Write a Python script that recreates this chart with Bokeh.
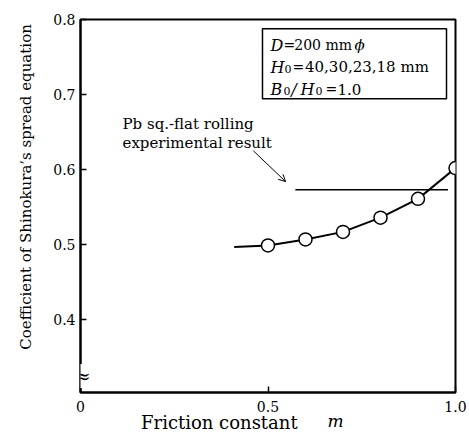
from bokeh.plotting import figure
from bokeh.models import (Range1d, FixedTicker, Label, Arrow, OpenHead,
                          BoxAnnotation, LinearAxis)
from bokeh.embed import file_html
from bokeh.resources import INLINE

# ---- data ----
curve_m = [0.41, 0.5, 0.6, 0.7, 0.8, 0.9, 1.0]
curve_c = [0.497, 0.499, 0.507, 0.517, 0.536, 0.561, 0.602]
point_m = [0.5, 0.6, 0.7, 0.8, 0.9, 1.0]
point_c = [0.499, 0.507, 0.517, 0.536, 0.561, 0.602]
exp_m = [0.573, 0.98]
exp_c = [0.573, 0.573]
x_ticks = [0, 0.5, 1.0]
x_tick_labels = ["0", "0.5", "1.0"]
y_ticks = [0.4, 0.5, 0.6, 0.7, 0.8]
y_tick_labels = ["0.4", "0.5", "0.6", "0.7", "0.8"]

FONT = "DejaVu Serif"
NB = "\u00a0"

p = figure(frame_width=375, frame_height=373,
           x_range=Range1d(0, 1.0), y_range=Range1d(0.303, 0.8),
           output_backend="svg", toolbar_location=None,
           min_border_left=80, min_border_right=14,
           min_border_top=19, min_border_bottom=56,
           background_fill_color="white", border_fill_color="white")
p.grid.visible = False
p.outline_line_color = "black"
p.outline_line_width = 2

for ax in (p.xaxis[0], p.yaxis[0]):
    ax.axis_line_width = 2
    ax.major_tick_in = 6
    ax.major_tick_out = 0
    ax.major_tick_line_width = 1.5
    ax.minor_tick_line_color = None
    ax.major_label_text_font = FONT
    ax.major_label_text_font_size = "14px"
    ax.major_label_text_color = "black"
    ax.major_label_standoff = 5

p.xaxis.ticker = FixedTicker(ticks=x_ticks)
p.xaxis.major_label_overrides = dict(zip(x_ticks, x_tick_labels))
p.xaxis.major_label_standoff = 8
p.yaxis.ticker = FixedTicker(ticks=y_ticks)
p.yaxis.major_label_overrides = dict(zip(y_ticks, y_tick_labels))

p.yaxis.axis_label = NB * 8 + "Coefficient of Shinokura\u2019s spread equation"
p.yaxis.axis_label_text_font = FONT
p.yaxis.axis_label_text_font_size = "15px"
p.yaxis.axis_label_text_font_style = "normal"
p.yaxis.axis_label_text_color = "black"
p.yaxis.axis_label_standoff = 15

# x axis label: "Friction constant" (shifted left by trailing spaces) ...
p.xaxis.axis_label = "Friction constant" + NB * 17
p.xaxis.axis_label_text_font = FONT
p.xaxis.axis_label_text_font_size = "18px"
p.xaxis.axis_label_text_font_style = "normal"
p.xaxis.axis_label_text_color = "black"
p.xaxis.axis_label_standoff = -3

# ... and the italic "m" on a bare helper axis pulled up to the same line
m_axis = LinearAxis(ticker=FixedTicker(ticks=[]), axis_line_color=None,
                    major_tick_line_color=None, minor_tick_line_color=None,
                    axis_label=NB * 25 + "m", axis_label_text_font=FONT,
                    axis_label_text_font_size="17px",
                    axis_label_text_font_style="italic",
                    axis_label_text_color="black", axis_label_standoff=-25)
p.add_layout(m_axis, "below")

# axis break mark
p.add_layout(Label(x=0, y=0.325, text="\u2248", text_font=FONT, text_font_size="20px",
                   text_color="black", text_align="center", text_baseline="middle",
                   x_offset=2, background_fill_color="white"))

# data
p.line(curve_m, curve_c, line_color="black", line_width=2)
p.line(exp_m, exp_c, line_color="black", line_width=1.5)
p.scatter(point_m, point_c, size=13, fill_color="white", line_color="black", line_width=1.5)

# annotation
p.add_layout(Label(x=0.112, y=0.661, text="Pb sq.-flat rolling", text_font=FONT,
                   text_font_size="15px", text_color="black", text_baseline="alphabetic"))
p.add_layout(Label(x=0.112, y=0.636, text="experimental result", text_font=FONT,
                   text_font_size="15px", text_color="black", text_baseline="alphabetic"))
p.add_layout(Arrow(x_start=0.461, y_start=0.625, x_end=0.547, y_end=0.584,
                   line_color="black", line_width=1,
                   end=OpenHead(size=7, line_color="black", line_width=1)))

# condition box
p.add_layout(BoxAnnotation(left=0.4853, right=0.976, top=0.7876, bottom=0.6943,
                           fill_alpha=0, line_color="black", line_width=1.5,
                           line_alpha=1))

def lab(x, y, t, italic=False, size="15px"):
    p.add_layout(Label(x=x, y=y, text=t, text_font=FONT, text_font_size=size,
                       text_font_style="italic" if italic else "normal",
                       text_color="black", text_baseline="alphabetic"))

SUB = 0.0027
Y1, Y2, Y3 = 0.766, 0.7367, 0.7073
lab(0.5067, Y1, "D", True, "16px")
lab(0.5413, Y1, "=", False, "14px")
lab(0.570, Y1, "200 mm", False, "14px")
lab(0.7307, Y1, "\u03d5", True, "15px")
lab(0.5067, Y2, "H", True, "16px")
lab(0.544, Y2 - SUB, "0", False, "11px")
lab(0.5653, Y2, "=", False, "14px")
lab(0.5987, Y2, "40,30,23,18 mm", False, "15px")
lab(0.5067, Y3, "B", True, "16px")
lab(0.5413, Y3 - SUB, "0", False, "11px")
lab(0.562, Y3, "/", True, "16px")
lab(0.5867, Y3, "H", True, "16px")
lab(0.6267, Y3 - SUB, "0", False, "11px")
lab(0.6533, Y3, "=", False, "14px")
lab(0.6853, Y3, "1.0", False, "15px")

open("out.html", "w").write(file_html(p, INLINE))
